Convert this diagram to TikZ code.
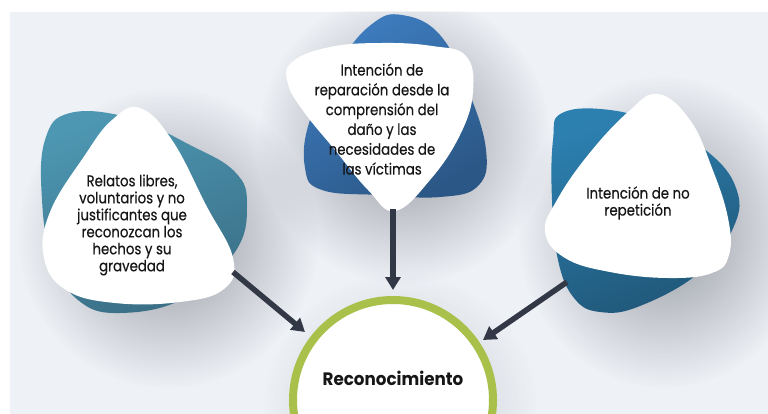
\documentclass[tikz,border=0pt]{standalone}
\usepackage{fontspec}
\setmainfont{Poppins}
\newfontfamily\labfont{Poppins}[FakeStretch=0.86,FakeBold=0.35]
\newfontfamily\recfont{Poppins}[FakeStretch=0.93]
\usetikzlibrary{arrows.meta,fadings}
\tikzfading[name=softglow,inner color=transparent!0,outer color=transparent!100]
\definecolor{panel}{HTML}{EEF1F6}
\definecolor{arrowc}{HTML}{323846}
\definecolor{ringc}{HTML}{A9C14B}
\definecolor{txt}{HTML}{161616}
\definecolor{shadowc}{HTML}{3A3F4A}
\definecolor{lbA}{HTML}{4D97B2}
\definecolor{lbB}{HTML}{3A6E86}
\definecolor{mbA}{HTML}{3E7DC0}
\definecolor{mbB}{HTML}{2B5786}
\definecolor{rbA}{HTML}{2C80B0}
\definecolor{rbB}{HTML}{205778}
\tikzset{
  label/.style={align=center,text=txt,font=\labfont\fontsize{15.5}{17}\selectfont,inner sep=0pt},
  conn/.style={arrowc,line width=5.5pt,-{Triangle[length=13pt,width=15pt]}},
  softsh/.style={fill=shadowc,opacity=#1,path fading=softglow},
  softsh/.default=0.5
}
\def\LB{plot[smooth cycle,tension=0.7] coordinates {(70,113) (130,118) (190,145) (235,172) (247,205) (235,252) (185,298) (120,313) (78,300) (52,258) (42,200) (45,140)}}
\def\LW{plot[smooth cycle,tension=0.7] coordinates {(140,108) (172,140) (206,205) (233,258) (224,289) (180,302) (115,303) (66,290) (44,258) (50,212) (85,155) (112,120)}}
\def\MB{plot[smooth cycle,tension=0.7] coordinates {(402,15) (440,35) (468,90) (486,150) (478,186) (440,197) (380,195) (322,190) (305,168) (310,120) (340,62) (372,24)}}
\def\MW{plot[smooth cycle,tension=0.7] coordinates {(292,62) (330,47) (382,43) (432,46) (466,56) (473,92) (460,135) (430,180) (395,211) (368,190) (335,150) (304,112) (288,84)}}
\def\RB{plot[smooth cycle,tension=0.7] coordinates {(562,113) (610,110) (660,125) (708,152) (736,188) (734,226) (700,272) (640,306) (600,312) (574,298) (558,260) (552,200) (553,140)}}
\def\RW{plot[smooth cycle,tension=0.7] coordinates {(658,94) (690,120) (712,168) (728,218) (729,255) (712,273) (668,278) (610,272) (565,258) (545,232) (557,200) (588,155) (628,112)}}
\begin{document}
\begin{tikzpicture}[x=1pt,y=-1pt]
\useasboundingbox (0,0) rectangle (768,414);
\fill[white] (0,0) rectangle (768,414);
\fill[panel] (10,12) rectangle (768,414);

% soft shadows
\begin{scope}
\clip (10,12) rectangle (768,414);
\path[softsh] (168,238) ellipse (150 and 150);
\path[softsh] (404,138) ellipse (146 and 146);
\path[softsh] (664,232) ellipse (146 and 156);
\path[softsh=0.24] (400,410) ellipse (138 and 138);
\end{scope}

% left blob
\shade[left color=lbA,right color=lbB,shading angle=20] \LB;
\fill[white] \LW;
% middle blob
\shade[left color=mbA,right color=mbB,shading angle=30] \MB;
\fill[white] \MW;
% right blob
\shade[left color=rbA,right color=rbB,shading angle=20] \RB;
\fill[white] \RW;

% central circle
\draw[ringc,line width=8pt,fill=white] (393,400) circle (100);

% labels
\node[label] (t1) at (132,225) {Relatos libres,\\voluntarios y no\\justificantes que\\reconozcan los\\hechos y su\\gravedad};
\node[label,font=\labfont\fontsize{15.5}{19.8}\selectfont] (t2) at (382,119) {Intención de\\reparación desde la\\comprensión del\\daño y las\\necesidades de\\las víctimas};
\node[label] (t3) at (638,203) {Intención de no\\repetición};
\node[label,font=\recfont\fontsize{18}{20}\bfseries] (rec) at (393,378) {Reconocimiento};

% connectors
\coordinate (s1) at (233,272);
\coordinate (e1) at (305,332);
\coordinate (s2) at (393,209);
\coordinate (e2) at (393,290);
\coordinate (s3) at (567,282);
\coordinate (e3) at (483,340);
\draw[conn] (s1) -- (e1);
\draw[conn] (s2) -- (e2);
\draw[conn] (s3) -- (e3);
\end{tikzpicture}
\end{document}
